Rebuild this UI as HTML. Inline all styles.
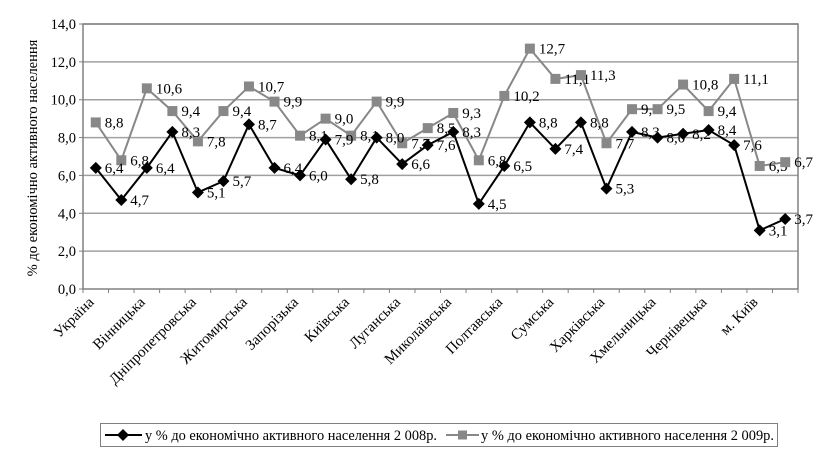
<!DOCTYPE html>
<html><head><meta charset="utf-8"><style>
html,body{margin:0;padding:0;background:#fff;}
svg, svg text{font-family:"Liberation Serif","DejaVu Serif",serif;fill:#000;}
</style></head><body>
<svg id="chart" width="826" height="455" font-family="Liberation Serif, DejaVu Serif, serif" xmlns="http://www.w3.org/2000/svg">
<g id="grid"></g><g id="axes"></g><g id="s09"></g><g id="s08"></g><g id="xl"></g>
<text transform="translate(37,158) rotate(-90)" text-anchor="middle" font-size="14.5">% до економічно активного населення</text>
<g>
<rect x="100.5" y="423.5" width="677" height="23" fill="#fff" stroke="#808080"/>
<g>
<line x1="105" y1="435" x2="142" y2="435" stroke="#000" stroke-width="2"/>
<polygon points="123,429 129,435 123,441 117,435" fill="#000"/>
<text x="145" y="440" font-size="14.5" textLength="292" lengthAdjust="spacingAndGlyphs">у % до економічно активного населення 2 008р.</text>
</g>
<g>
<line x1="446" y1="435" x2="479" y2="435" stroke="#888" stroke-width="2"/>
<rect x="458" y="430.5" width="9" height="9" fill="#888"/>
<text x="481" y="440" font-size="14.5" textLength="293" lengthAdjust="spacingAndGlyphs">у % до економічно активного населення 2 009р.</text>
</g>
</g>
</svg>
<script>
const categories = ["Україна","АР Крим","Вінницька","Волинська","Дніпропетровська","Донецька","Житомирська","Закарпатська","Запорізька","Івано-Франківська","Київська","Кіровоградська","Луганська","Львівська","Миколаївська","Одеська","Полтавська","Рівненська","Сумська","Тернопільська","Харківська","Херсонська","Хмельницька","Черкаська","Чернівецька","Чернігівська","м. Київ","м. Севастополь"];
const showLabel = [1,0,1,0,1,0,1,0,1,0,1,0,1,0,1,0,1,0,1,0,1,0,1,0,1,0,1,0];
const values2008 = [6.4,4.7,6.4,8.3,5.1,5.7,8.7,6.4,6.0,7.9,5.8,8.0,6.6,7.6,8.3,4.5,6.5,8.8,7.4,8.8,5.3,8.3,8.0,8.2,8.4,7.6,3.1,3.7];
const values2009 = [8.8,6.8,10.6,9.4,7.8,9.4,10.7,9.9,8.1,9.0,8.1,9.9,7.7,8.5,9.3,6.8,10.2,12.7,11.1,11.3,7.7,9.5,9.5,10.8,9.4,11.1,6.5,6.7];
const yTicks = [0,2,4,6,8,10,12,14];

const NS = "http://www.w3.org/2000/svg";
const L = 83, R = 798, T = 24, B = 289, YMAX = 14;
const step = (R - L) / categories.length;
const xs = i => L + step * (i + 0.5);
const ys = v => B - (v / YMAX) * (B - T);
function mk(tag, attrs, parent) {
  const e = document.createElementNS(NS, tag);
  for (const k in attrs) e.setAttribute(k, attrs[k]);
  parent.appendChild(e);
  return e;
}
const fmt = v => v.toFixed(1).replace('.', ',');
const grid = document.getElementById('grid');
const axes = document.getElementById('axes');

yTicks.forEach(t => {
  const y = ys(t);
  if (t > 0) {
    const g = mk('line', {x1: L, x2: R, y1: y, y2: y, stroke: '#a0a0a0', 'stroke-width': 1.5}, grid);
    
    
  }
  mk('line', {x1: L - 4, x2: L, y1: y, y2: y, stroke: '#808080'}, axes);
  const tx = mk('text', {x: L - 7, y: y + 5, 'text-anchor': 'end', 'font-size': 14.5}, axes);
  tx.textContent = fmt(t);
  
  
});
const frame = mk('rect', {x: L, y: T, width: R - L, height: B - T, fill: 'none', stroke: '#808080', 'stroke-width': 1.5}, axes);


for (let i = 0; i <= categories.length; i++) {
  const x = L + step * i;
  mk('line', {x1: x, x2: x, y1: B, y2: B + 4, stroke: '#808080'}, axes);
}

const xl = document.getElementById('xl');
categories.forEach((c, i) => {
  if (!showLabel[i]) return;
  const x = xs(i) - 1, y = B + 14;
  const t = mk('text', {x: x, y: y, 'text-anchor': 'end', 'font-size': 15, transform: `rotate(-45 ${x} ${y})`}, xl);
  t.textContent = c;
  
  
});

function series(gid, vals, color, marker, name) {
  const g = document.getElementById(gid);
  
  
  const pts = vals.map((v, i) => xs(i) + ',' + ys(v)).join(' ');
  const pl = mk('polyline', {points: pts, fill: 'none', stroke: color, 'stroke-width': 2}, g);
  
  
  vals.forEach((v, i) => {
    const x = xs(i), y = ys(v);
    let m;
    if (marker === 'diamond') {
      m = mk('polygon', {points: `${x},${y-6} ${x+6},${y} ${x},${y+6} ${x-6},${y}`, fill: color}, g);
    } else {
      m = mk('rect', {x: x - 5, y: y - 5, width: 10, height: 10, fill: color}, g);
    }
    
    
    const t = mk('text', {x: x + 9, y: y + 5, 'font-size': 15}, g);
    t.textContent = fmt(v);
    
    
  });
}
series('s09', values2009, '#888888', 'square', 'series-2009');
series('s08', values2008, '#000000', 'diamond', 'series-2008');
</script>
</body></html>
